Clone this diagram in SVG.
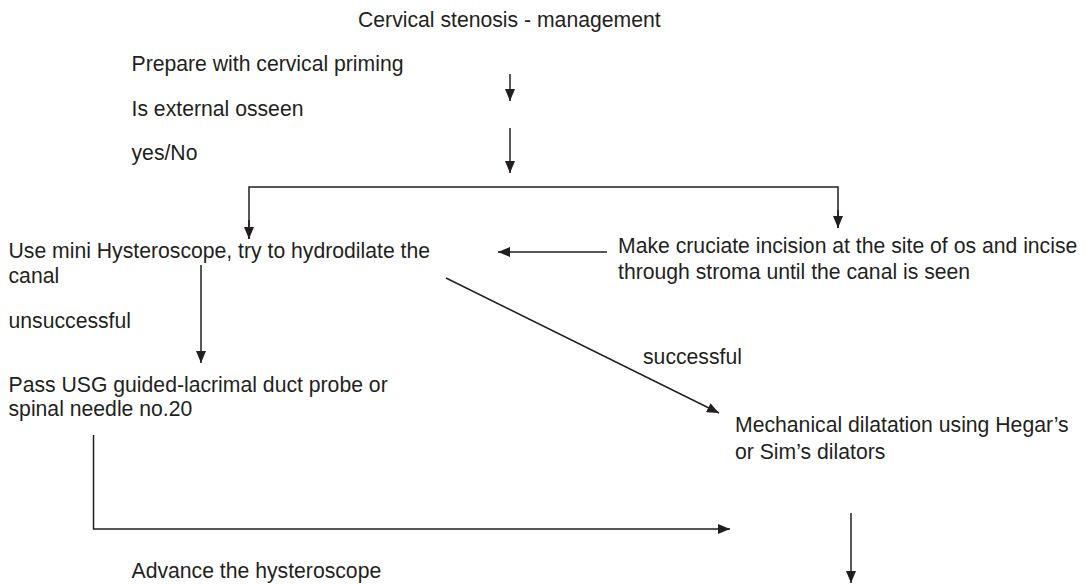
<svg xmlns="http://www.w3.org/2000/svg" width="1090" height="584" viewBox="0 0 1090 584">
  <style>
    text { font-family: "Liberation Sans", Arial, sans-serif; font-size: 21.2px; fill: #231f20; }
    .line { fill: none; stroke: #231f20; stroke-width: 1.5; }
  </style>
  <defs>
    <marker id="arrow" viewBox="0 0 12 10" refX="12" refY="5" markerWidth="12" markerHeight="10" markerUnits="userSpaceOnUse" orient="auto">
      <path d="M0,0 L12,5 L0,10 Z" fill="#231f20"/>
    </marker>
  </defs>
  <rect width="1090" height="584" fill="#ffffff"/>

  <g id="title"><text x="358" y="27">Cervical stenosis - management</text></g>
  <g id="priming"><text x="131.5" y="71">Prepare with cervical priming</text></g>
  <g id="osseen"><text x="131.5" y="116">Is external osseen</text></g>
  <g id="yesno"><text x="131.5" y="160">yes/No</text></g>
  <g id="hysteroscope">
    <text x="8.5" y="258">Use mini Hysteroscope, try to hydrodilate the</text>
    <text x="8.5" y="283">canal</text>
  </g>
  <g id="incision">
    <text x="618" y="253">Make cruciate incision at the site of os and incise</text>
    <text x="618" y="279">through stroma until the canal is seen</text>
  </g>
  <g id="unsuccessful"><text x="8.5" y="328">unsuccessful</text></g>
  <g id="probe">
    <text x="8.5" y="392">Pass USG guided-lacrimal duct probe or</text>
    <text x="8.5" y="416">spinal needle no.20</text>
  </g>
  <g id="successful"><text x="643" y="364">successful</text></g>
  <g id="dilatation">
    <text x="735" y="432">Mechanical dilatation using Hegar’s</text>
    <text x="735" y="459">or Sim’s dilators</text>
  </g>
  <g id="advance"><text x="131.5" y="578">Advance the hysteroscope</text></g>

  <g id="connectors">
    <line class="line" x1="510" y1="74" x2="510" y2="101" marker-end="url(#arrow)"/>
    <line class="line" x1="510" y1="128" x2="510" y2="173" marker-end="url(#arrow)"/>
    <polyline class="line" points="249,239 249,187 838,187 838,228"/>
    <line class="line" x1="249" y1="220" x2="249" y2="239" marker-end="url(#arrow)"/>
    <line class="line" x1="838" y1="210" x2="838" y2="228" marker-end="url(#arrow)"/>
    <line class="line" x1="607" y1="252" x2="498" y2="252" marker-end="url(#arrow)"/>
    <line class="line" x1="201" y1="265" x2="201" y2="363" marker-end="url(#arrow)"/>
    <line class="line" x1="446" y1="278" x2="719" y2="413" marker-end="url(#arrow)"/>
    <polyline class="line" points="93.5,435 93.5,529 730,529" marker-end="url(#arrow)"/>
    <line class="line" x1="851" y1="513" x2="851" y2="583" marker-end="url(#arrow)"/>
  </g>
</svg>
